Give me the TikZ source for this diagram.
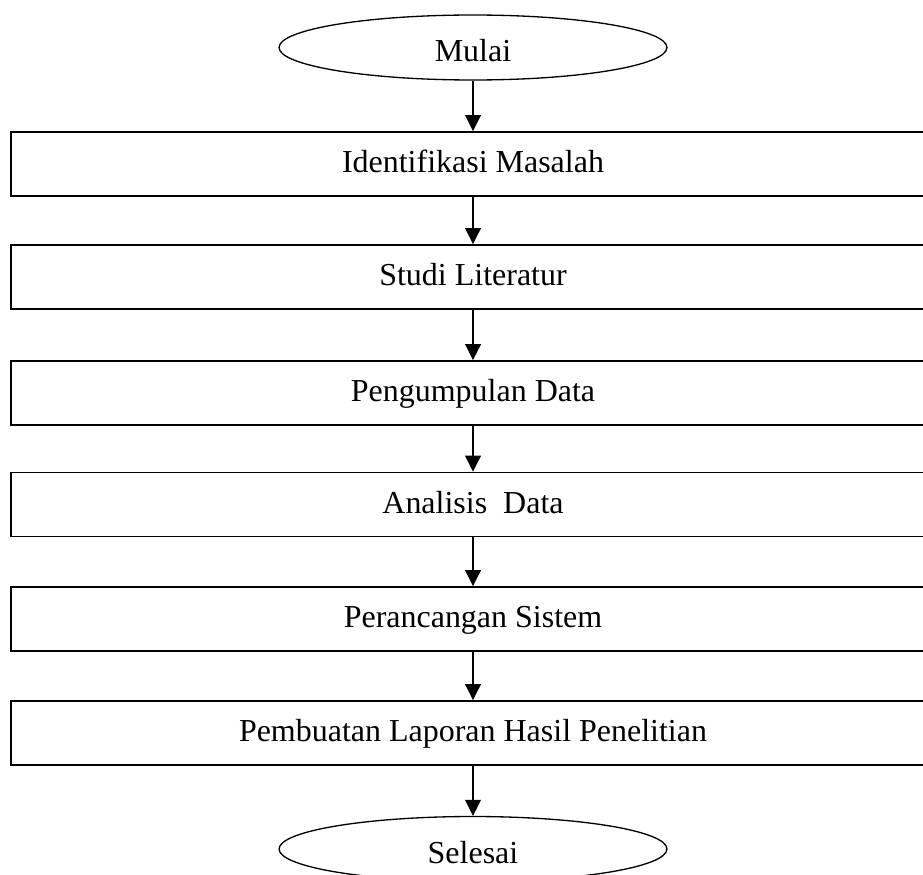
\documentclass[tikz,border=0pt]{standalone}
\usepackage{fontspec}
\setmainfont{Liberation Serif}
\usepackage{tikz}
\usetikzlibrary{arrows.meta, positioning, shapes.geometric}
\definecolor{InkBlack}{HTML}{000000}

\begin{document}
\begin{tikzpicture}[x=0.02cm, y=-0.02cm,
    stepbox/.style={draw=InkBlack, line width=0.9pt, rectangle, minimum width=18.48cm, minimum height=1.28cm, inner sep=0pt, text height=0.5cm, text depth=0.16cm, font=\fontsize{18.2pt}{22pt}\selectfont},
    terminal/.style={draw=InkBlack, line width=0.75pt, ellipse, minimum width=7.76cm, minimum height=1.3cm, inner sep=0pt, text height=0.62cm, text depth=0.04cm, font=\fontsize{18.2pt}{22pt}\selectfont},
    flow/.style={line width=1.15pt, color=InkBlack, -{Triangle[length=0.32cm, width=0.31cm]}}]
                    \useasboundingbox (0,0) rectangle (923,875);
                    \node[terminal] (mulai) at (473,47.5) {Mulai};
                    \node[stepbox] (identifikasi) at (473,164) {Identifikasi Masalah};
                    \node[stepbox] (studi) at (473,277) {Studi Literatur};
                    \node[stepbox] (pengumpulan) at (473,393) {Pengumpulan Data};
                    \node[stepbox] (analisis) at (473,504.5) {Analisis\ \ Data};
                    \node[stepbox] (perancangan) at (473,619) {Perancangan Sistem};
                    \node[stepbox] (laporan) at (473,733) {Pembuatan Laporan Hasil Penelitian};
                    \node[terminal] (selesai) at (473,849) {Selesai};
                    \draw[flow] (mulai) -- (identifikasi);
                    \draw[flow] (identifikasi) -- (studi);
                    \draw[flow] (studi) -- (pengumpulan);
                    \draw[flow] (pengumpulan) -- (analisis);
                    \draw[flow] (analisis) -- (perancangan);
                    \draw[flow] (perancangan) -- (laporan);
                    \draw[flow] (laporan) -- (selesai);
                \end{tikzpicture}
\end{document}
